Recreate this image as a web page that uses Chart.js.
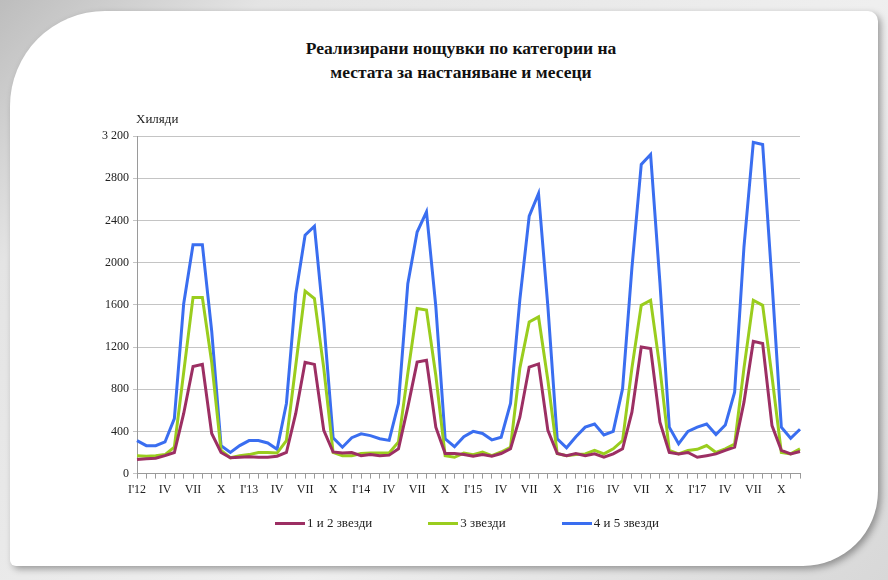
<!DOCTYPE html>
<html>
<head>
<meta charset="utf-8">
<script src="https://cdn.jsdelivr.net/npm/chart.js@4/dist/chart.umd.min.js"></script>
<style>
html, body { margin: 0; padding: 0; width: 888px; height: 580px; overflow: hidden; }
body { background: linear-gradient(135deg, #bdbdbd 0%, #e4e4e4 18%, #efefef 60%, #d8d8d8 100%); position: relative; }
#card { position: absolute; left: 10px; top: 11px; width: 868px; height: 555px; background: #fff; border-radius: 95px 10px 75px 6px; box-shadow: 3px 3px 7px rgba(0,0,0,0.35); }
#wrap { position: absolute; left: 0; top: 0; width: 888px; height: 580px; }
#title { position: absolute; left: 0; top: 36px; width: 922px; text-align: center; font-family: "Liberation Serif", "DejaVu Serif", serif; font-size: 17.5px; font-weight: bold; line-height: 24px; color: #111; }
#legend { position: absolute; left: 4px; top: 515px; width: 926px; text-align: center; font-family: "Liberation Serif", "DejaVu Serif", serif; font-size: 13px; color: #222; }
#legend span.item { display: inline-block; margin: 0 28px; }
#legend span.ln { display: inline-block; width: 30px; height: 3px; vertical-align: middle; margin-right: 2px; position: relative; top: -1px; }
</style>
</head>
<body>
<div id="card"></div>
<div id="title">Реализирани нощувки по категории на<br>местата за настаняване и месеци</div>
<div id="wrap"><canvas id="chart" width="888" height="580"></canvas></div>
<div id="legend"></div>
<script>
// месеци и години
const years = ["12", "13", "14", "15", "16", "17"];
const months = ["I", "II", "III", "IV", "V", "VI", "VII", "VIII", "IX", "X", "XI", "XII"];
const yTicks = [0, 400, 800, 1200, 1600, 2000, 2400, 2800, 3200];

// хиляди нощувки, по години (I..XII)
const stars12 = [
    133, 140, 145, 170, 200, 570, 1015, 1035, 380, 200, 150, 155,
    160, 155, 155, 165, 200, 570, 1055, 1035, 410, 205, 195, 200,
    170, 180, 170, 175, 235, 630, 1057, 1075, 440, 190, 190, 180,
    165, 180, 165, 190, 235, 535, 1010, 1040, 410, 190, 170, 190,
    170, 187, 155, 187, 235, 582, 1200, 1185, 487, 200, 187, 200,
    155, 170, 187, 220, 250, 677, 1253, 1233, 455, 220, 187, 210
];
const stars3 = [
    170, 165, 170, 180, 250, 960, 1670, 1670, 1055, 220, 150, 170,
    180, 200, 200, 195, 313, 1025, 1730, 1660, 1000, 200, 170, 170,
    190, 195, 195, 195, 300, 950, 1565, 1550, 930, 170, 155, 195,
    180, 205, 170, 205, 250, 1000, 1437, 1485, 885, 190, 170, 180,
    187, 220, 187, 235, 313, 1000, 1595, 1643, 1000, 220, 187, 220,
    230, 266, 200, 235, 280, 1000, 1643, 1595, 920, 200, 187, 235
];
const stars45 = [
    313, 265, 265, 300, 522, 1610, 2170, 2170, 1350, 265, 200, 265,
    313, 313, 290, 230, 665, 1700, 2260, 2345, 1440, 340, 250, 340,
    377, 360, 330, 315, 665, 1800, 2290, 2480, 1585, 330, 255, 350,
    400, 380, 320, 345, 665, 1650, 2440, 2655, 1585, 330, 245, 350,
    440, 470, 367, 400, 805, 1950, 2930, 3025, 1810, 440, 282, 400,
    440, 470, 370, 460, 772, 2150, 3140, 3120, 1817, 440, 335, 420
];

const categories = [];
years.forEach(function(y) {
    months.forEach(function(m, i) {
        categories.push(i === 0 ? m + "'" + y : m);
    });
});

const series = [
    { label: '1 и 2 звезди', data: stars12, color: '#9c2f63' },
    { label: '3 звезди', data: stars3, color: '#9acd1e' },
    { label: '4 и 5 звезди', data: stars45, color: '#3a6ef0' }
];

const serif = 'Liberation Serif';

// надпис "Хиляди" над оста
const unitLabel = {
    id: 'unitLabel',
    afterDraw: function(chart) {
        const ctx = chart.ctx;
        ctx.save();
        ctx.font = '13px "' + serif + '"';
        ctx.fillStyle = '#222';
        ctx.textBaseline = 'middle';
        ctx.fillText('Хиляди', chart.chartArea.left - 1, chart.chartArea.top - 16);
        ctx.restore();
    }
};

const ctx = document.getElementById('chart').getContext('2d');
const chart = new Chart(ctx, {
    type: 'line',
    data: {
        labels: categories,
        datasets: series.map(function(s) {
            return {
                label: s.label,
                data: s.data,
                borderColor: s.color,
                backgroundColor: s.color,
                borderWidth: 3,
                pointRadius: 0,
                tension: 0,
                fill: false
            };
        })
    },
    options: {
        responsive: false,
        animation: false,
        layout: { padding: { left: 86, right: 88, top: 136, bottom: 79 } },
        scales: {
            x: {
                grid: { drawOnChartArea: false, drawTicks: true, tickLength: 5, color: '#9a9a9a' },
                border: { color: '#9a9a9a' },
                ticks: {
                    autoSkip: false,
                    maxRotation: 0,
                    padding: 4,
                    color: '#222',
                    font: { family: serif, size: 12 },
                    callback: function(v, i) { return i % 3 === 0 ? categories[i] : ''; }
                }
            },
            y: {
                min: 0,
                max: 3200,
                afterFit: function(scale) { scale.width = 51; },
                afterBuildTicks: function(scale) { scale.ticks = yTicks.map(function(v) { return { value: v }; }); },
                grid: { color: '#c4c4c4', tickLength: 4 },
                border: { color: '#9a9a9a' },
                ticks: {
                    padding: 4,
                    color: '#222',
                    font: { family: serif, size: 12 },
                    callback: function(v) { return v === 3200 ? '3 200' : String(v); }
                }
            }
        },
        plugins: {
            legend: { display: false },
            tooltip: { enabled: false }
        }
    },
    plugins: [unitLabel]
});

// легенда
const legend = document.getElementById('legend');
series.forEach(function(s) {
    const item = document.createElement('span');
    item.className = 'item';
    const ln = document.createElement('span');
    ln.className = 'ln';
    ln.style.background = s.color;
    item.appendChild(ln);
    item.appendChild(document.createTextNode(s.label));
    legend.appendChild(item);
});
</script>
</body>
</html>
